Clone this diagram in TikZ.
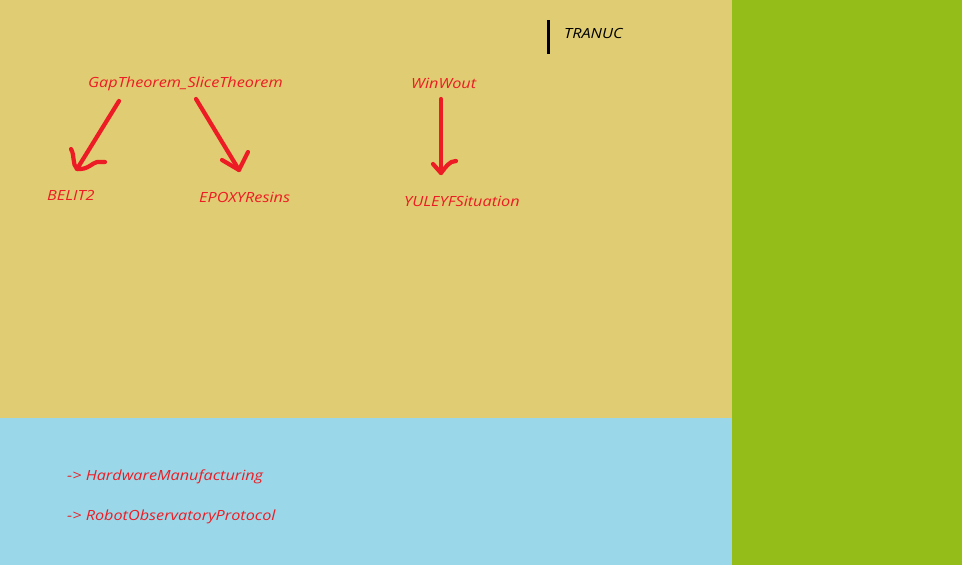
\documentclass[tikz,border=0pt]{standalone}
\usepackage{fontspec}
\setmainfont{Open Sans}[FakeStretch=1.16]
\definecolor{tanbg}{HTML}{E0CC72}
\definecolor{greenbg}{HTML}{95BD19}
\definecolor{bluebg}{HTML}{9AD8E9}
\definecolor{redink}{HTML}{ED1C24}
\begin{document}
\begin{tikzpicture}[x=1pt,y=-1pt,
  lbl/.style={anchor=base west,inner sep=0pt,text=redink,font=\fontsize{14}{16}\selectfont\itshape},
  blk/.style={anchor=base west,inner sep=0pt,text=black,font=\fontsize{14}{16}\selectfont\itshape},
  pen/.style={draw=redink,line width=4.2pt,line cap=round,line join=round}]
\useasboundingbox (0,0) rectangle (962,565);
\fill[tanbg] (0,0) rectangle (732,418);
\fill[bluebg] (0,418) rectangle (732,565);
\fill[greenbg] (732,0) rectangle (962,565);
% black bar
\coordinate (bt) at (548,20);
\coordinate (bb) at (548,54);
\draw[line width=3pt] (bt) -- (bb);
\node[blk] (tranuc) at (564,38) {TRANUC};
% labels
\node[lbl] (gap) at (88,87) {GapTheorem\_SliceTheorem};
\node[lbl] (belit) at (47,200) {BELIT2};
\node[lbl] (epoxy) at (199,202) {EPOXYResins};
\node[lbl] (win) at (411,88) {WinWout};
\node[lbl] (yule) at (404,206) {YULEYFSituation};
\node[lbl] (hw) at (67,480) {-> HardwareManufacturing};
\node[lbl] (rob) at (67,520) {-> RobotObservatoryProtocol};
% hand-drawn arrows
\coordinate (a1s) at (119,101);
\coordinate (a1e) at (77,169);
\draw[pen] (a1s) -- (a1e);
\draw[pen] (71,149) .. controls (75,156) and (72,164) .. (a1e) .. controls (88,170) and (92,163) .. (97,162) -- (105,162);
\coordinate (a2s) at (196,99);
\coordinate (a2e) at (239,170);
\draw[pen] (a2s) -- (a2e);
\draw[pen] (222,160) -- (a2e) .. controls (243,162) and (246,156) .. (248,152);
\coordinate (a3s) at (441,99);
\coordinate (a3e) at (441,173);
\draw[pen] (a3s) -- (a3e);
\draw[pen] (433,164) -- (a3e) .. controls (446,167) and (449,161) .. (456,161);
\end{tikzpicture}
\end{document}
